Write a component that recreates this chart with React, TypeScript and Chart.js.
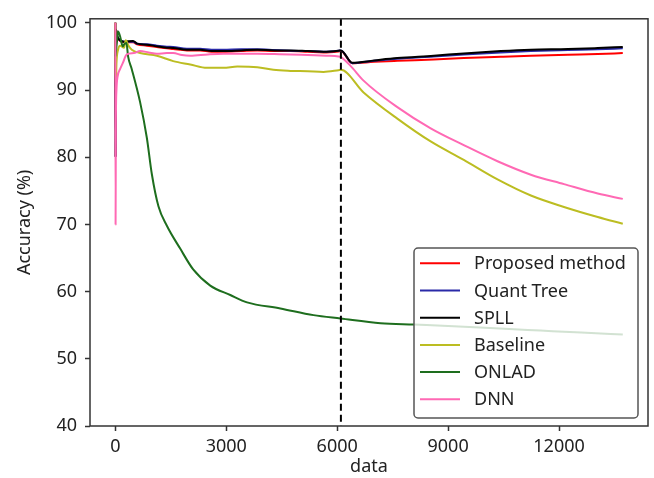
import React, { useEffect, useRef } from "react";
import { Chart, registerables } from "chart.js";

Chart.register(...registerables);

const X_TICKS = [0, 3000, 6000, 9000, 12000];
const Y_TICKS = [40, 50, 60, 70, 80, 90, 100];
const DRIFT_AT = 6100;

const SERIES_NAMES = ["Proposed method", "Quant Tree", "SPLL", "Baseline", "ONLAD", "DNN"];
const SERIES_COLORS = ["#ff0000", "#2a2aa8", "#000000", "#bcbd22", "#1e6e1e", "#ff69b4"];

const driftX = [0, 8, 16, 50, 127, 236, 480, 588, 851, 1122, 1393, 1564, 1935, 2295, 2600, 2919, 3400, 3840, 4300, 4734, 5200, 5629, 6035, 6100, 6407, 7000, 7626, 8610, 9423, 10425, 11238, 12241, 13046, 13724];
const proposedY = [100, 80, 99, 98, 97.3, 97.1, 97.1, 96.8, 96.6, 96.4, 96.2, 96.1, 95.9, 95.9, 95.7, 95.7, 95.8, 95.9, 95.8, 95.8, 95.7, 95.6, 95.75, 95.8, 94.0, 94.2, 94.35, 94.55, 94.75, 94.95, 95.1, 95.25, 95.35, 95.5];
const quantTreeY = [100, 80, 99, 98, 97.4, 97.2, 97.2, 96.9, 96.8, 96.6, 96.45, 96.4, 96.15, 96.15, 96.0, 96.0, 96.05, 96.05, 95.95, 95.85, 95.8, 95.7, 95.85, 95.9, 94.0, 94.35, 94.65, 95.0, 95.3, 95.6, 95.8, 95.95, 96.05, 96.2];
const spllY = [100, 80, 99, 98, 97.4, 97.2, 97.3, 96.9, 96.75, 96.5, 96.3, 96.25, 96.0, 96.0, 95.8, 95.8, 95.9, 96.0, 95.9, 95.9, 95.8, 95.7, 95.85, 95.9, 94.05, 94.4, 94.75, 95.1, 95.45, 95.8, 96.0, 96.1, 96.25, 96.4];

const baselineX = [0, 10, 30, 73, 127, 236, 280, 309, 344, 444, 669, 1122, 1564, 2024, 2477, 2919, 3300, 3840, 4274, 4734, 5200, 5629, 6035, 6100, 6713, 7626, 8528, 9423, 10336, 11238, 12133, 13046, 13724];
const baselineY = [100, 90, 94, 96.0, 96.6, 96.3, 97.4, 97.2, 96.7, 96.0, 95.5, 95.1, 94.3, 93.8, 93.3, 93.3, 93.5, 93.4, 93.0, 92.85, 92.8, 92.7, 92.95, 93.0, 89.65, 85.75, 82.35, 79.6, 76.7, 74.3, 72.6, 71.1, 70.1];

const onladX = [0, 40, 73, 127, 200, 236, 300, 344, 444, 669, 851, 986, 1165, 1393, 1753, 2105, 2566, 3108, 3561, 4463, 5358, 6089, 7173, 8068, 9000, 10400, 11500, 12600, 13724];
const onladY = [95, 97, 98.7, 98.0, 96.5, 96.8, 97.0, 95.0, 93.1, 88.2, 82.9, 77.5, 72.7, 69.8, 66.4, 63.3, 60.9, 59.5, 58.4, 57.5, 56.5, 56.0, 55.3, 55.1, 54.9, 54.5, 54.2, 53.9, 53.6];

const dnnX = [0, 6, 14, 30, 60, 127, 200, 309, 500, 669, 900, 1122, 1393, 1564, 1800, 2024, 2500, 2919, 3500, 3840, 4300, 4734, 5200, 5700, 6035, 6100, 6360, 6713, 7626, 8528, 9423, 10336, 11238, 12133, 13046, 13724];
const dnnY = [100, 70, 85, 90, 92, 93.1, 94.0, 95.3, 95.5, 95.8, 95.6, 95.4, 95.5, 95.5, 95.2, 95.1, 95.3, 95.4, 95.4, 95.4, 95.35, 95.3, 95.2, 95.1, 95.0, 94.9, 93.6, 91.4, 87.45, 84.3, 81.8, 79.4, 77.4, 76.0, 74.6, 73.8];

const SERIES_X = [driftX, driftX, driftX, baselineX, onladX, dnnX];
const SERIES_Y = [proposedY, quantTreeY, spllY, baselineY, onladY, dnnY];

const FONT_FAMILY = "'Noto Sans', 'DejaVu Sans', sans-serif";
const TEXT_COLOR = "#222222";
const AXIS_COLOR = "#333333";

export default function App() {
  const ref = useRef<HTMLCanvasElement | null>(null);

  useEffect(() => {
    document.body.style.margin = "0";
    const canvas = ref.current;
    if (!canvas) return;

    const overlay = {
      id: "overlay",
      afterDatasetsDraw(chart: any) {
        const { ctx, chartArea } = chart;
        const xs = chart.scales.x;
        const px = xs.getPixelForValue(DRIFT_AT);
        ctx.save();
        ctx.strokeStyle = "#000";
        ctx.lineWidth = 2;
        ctx.setLineDash([7, 4]);
        ctx.beginPath();
        ctx.moveTo(px, chartArea.top);
        ctx.lineTo(px, chartArea.bottom);
        ctx.stroke();
        ctx.setLineDash([]);
        ctx.strokeStyle = AXIS_COLOR;
        ctx.lineWidth = 1.5;
        ctx.strokeRect(chartArea.left, chartArea.top, chartArea.right - chartArea.left, chartArea.bottom - chartArea.top);
        ctx.restore();
      },
      afterDraw(chart: any) {
        const { ctx } = chart;
        const bx = 414, by = 248, bw = 224, bh = 170;
        ctx.save();
        ctx.beginPath();
        (ctx as any).roundRect(bx, by, bw, bh, 4);
        ctx.fillStyle = "rgba(255,255,255,0.8)";
        ctx.fill();
        ctx.strokeStyle = "#555";
        ctx.lineWidth = 1.5;
        ctx.stroke();
        ctx.font = `18px ${FONT_FAMILY}`;
        ctx.textBaseline = "middle";
        ctx.textAlign = "left";
        SERIES_NAMES.forEach((name, i) => {
          const y = 263.3 + i * 27.2;
          ctx.strokeStyle = SERIES_COLORS[i];
          ctx.lineWidth = 2;
          ctx.beginPath();
          ctx.moveTo(420, y);
          ctx.lineTo(460, y);
          ctx.stroke();
          ctx.fillStyle = TEXT_COLOR;
          ctx.fillText(name, 474, y + 1);
        });
        ctx.restore();
      },
    };

    const font = { family: FONT_FAMILY, size: 18 };

    const chart = new Chart(canvas, {
      type: "line",
      data: {
        datasets: SERIES_NAMES.map((name, i) => ({
          label: name,
          data: SERIES_X[i].map((x, j) => ({ x, y: SERIES_Y[i][j] })),
          borderColor: SERIES_COLORS[i],
          backgroundColor: SERIES_COLORS[i],
          borderWidth: 2,
          pointRadius: 0,
          fill: false,
          cubicInterpolationMode: "monotone" as const,
          borderJoinStyle: "round" as const,
          order: SERIES_NAMES.length - i,
        })),
      },
      options: {
        animation: false,
        responsive: false,
        devicePixelRatio: 1,
        layout: { padding: { top: 12, right: 6, left: 0, bottom: 0 } },
        plugins: { legend: { display: false }, tooltip: { enabled: false } },
        scales: {
          x: {
            type: "linear",
            min: -686,
            max: 14406,
            afterFit: (s: any) => {
              s.height = 52;
            },
            afterBuildTicks: (s: any) => {
              s.ticks = X_TICKS.map((v) => ({ value: v }));
            },
            grid: { display: true, drawOnChartArea: false, drawTicks: true, tickLength: 5, tickWidth: 1.5, tickColor: AXIS_COLOR },
            border: { display: false },
            ticks: { font, color: TEXT_COLOR, padding: 5, maxRotation: 0, autoSkip: false, callback: (v: any) => String(v) },
            title: { display: true, text: "data", font: { family: FONT_FAMILY, size: 18 }, color: TEXT_COLOR, padding: { top: 0, bottom: 0 } },
          },
          y: {
            type: "linear",
            min: 40,
            max: 100.6,
            afterFit: (s: any) => {
              s.width = 90;
            },
            afterBuildTicks: (s: any) => {
              s.ticks = Y_TICKS.map((v) => ({ value: v }));
            },
            grid: { display: true, drawOnChartArea: false, drawTicks: true, tickLength: 5, tickWidth: 1.5, tickColor: AXIS_COLOR },
            border: { display: false },
            ticks: { font, color: TEXT_COLOR, padding: 8, autoSkip: false, callback: (v: any) => String(v) },
            title: { display: true, text: "Accuracy (%)", font: { family: FONT_FAMILY, size: 18 }, color: TEXT_COLOR, padding: { top: 14, bottom: 0 } },
          },
        },
      },
      plugins: [overlay],
    });

    return () => chart.destroy();
  }, []);

  return <canvas ref={ref} width={654} height={478} style={{ display: "block" }} />;
}
